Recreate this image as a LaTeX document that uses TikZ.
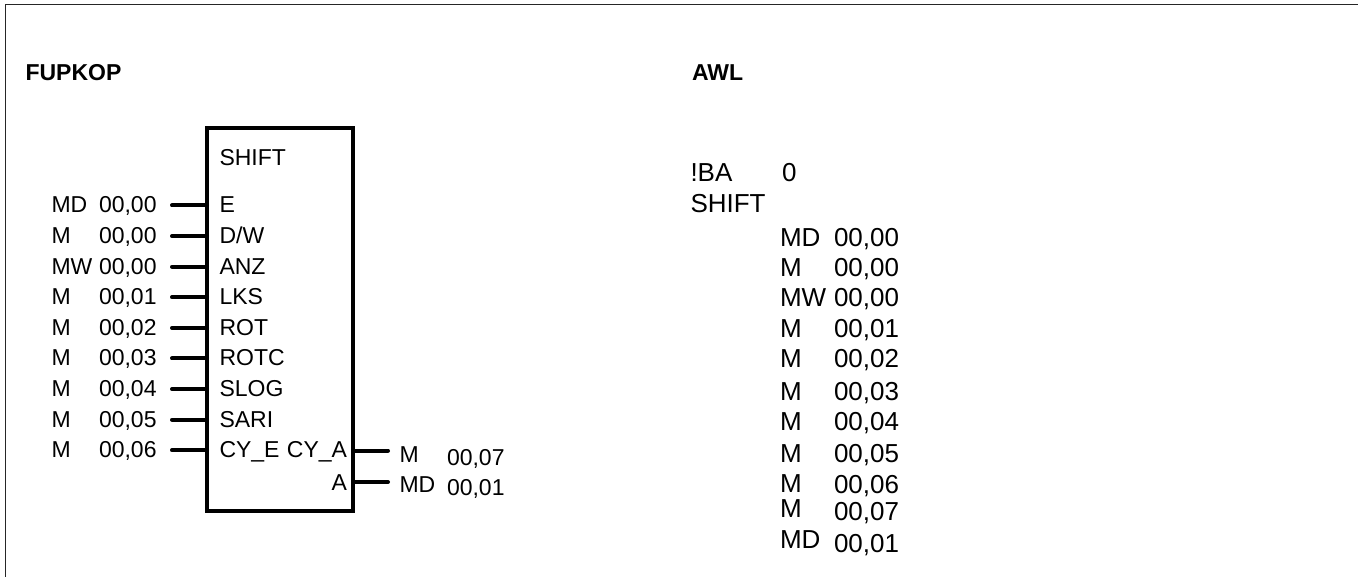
\documentclass[tikz,border=0pt]{standalone}
\usepackage{fontspec}
\setmainfont{Liberation Sans}
\begin{document}
\begin{tikzpicture}[x=1pt,y=-1pt,
  txt/.style={inner sep=0pt,outer sep=0pt,anchor=base west,font=\fontsize{23}{27}\selectfont},
  ltxt/.style={txt,font=\fontsize{26}{30}\selectfont},
  rtxt/.style={txt,anchor=base east},
  head/.style={txt,font=\fontsize{23}{27}\selectfont\bfseries},
  stub/.style={line width=4pt,line cap=round},
  frame/.style={line width=1.5pt,black!85},
  blk/.style={draw,line width=4pt,inner sep=0pt,outer sep=0pt,minimum width=146pt,minimum height=383pt,anchor=north west}]
\useasboundingbox (0,0) rectangle (1358,577);
% frame
\draw[frame] (1358,4.5) -- (5.5,4.5) -- (5.5,577);
% headings
\node[head] (fup) at (25.5,81) {FUPKOP};
\node[head] (awl) at (692,81) {AWL};
% block
\node[blk] (box) at (207,128) {};
\node[txt] (bname) at (219.5,166) {SHIFT};
% inputs
\foreach \p/\n/\l [count=\i from 0] in {MD/{00,00}/E, M/{00,00}/{D/W}, MW/{00,00}/ANZ, M/{00,01}/LKS, M/{00,02}/ROT, M/{00,03}/ROTC, M/{00,04}/SLOG, M/{00,05}/SARI, M/{00,06}/{CY\_E}} {
  \pgfmathsetmacro\yb{213+30.6*\i}
  \node[txt] (lp\i) at (51.5,\yb) {\p};
  \node[txt] (ln\i) at (99,\yb) {\n};
  \node[txt] (pin\i) at (219.5,\yb) {\l};
  \coordinate (in\i) at (172,{\yb-7.5});
  \draw[stub] (in\i) -- (in\i -| box.west);
}
% outputs
\node[rtxt] (pcya) at (347,457.8) {CY\_A};
\node[rtxt] (pa) at (347,490) {A};
\coordinate (out0) at (388,450.5);
\coordinate (out1) at (388,482);
\draw[stub] (box.east |- out0) -- (out0);
\draw[stub] (box.east |- out1) -- (out1);
\node[txt] (rp0) at (399.5,462) {M};
\node[txt] (rn0) at (447,465) {00,07};
\node[txt] (rp1) at (399.5,492) {MD};
\node[txt] (rn1) at (447,495) {00,01};
% AWL listing
\node[ltxt] (ba) at (690.5,182) {!BA};
\node[ltxt] (ba0) at (782,182) {0};
\node[ltxt] (sh) at (690.5,213) {SHIFT};
\foreach \p/\n/\yp/\yn [count=\i from 0] in {MD/{00,00}/247/247, M/{00,00}/277/277, MW/{00,00}/307/307, M/{00,01}/338/338, M/{00,02}/368/368, M/{00,03}/400/400, M/{00,04}/430/430, M/{00,05}/462/462, M/{00,06}/492/493, M/{00,07}/517/520, MD/{00,01}/548/552} {
  \node[ltxt] (ap\i) at (780,\yp) {\p};
  \node[ltxt] (an\i) at (834,\yn) {\n};
}
\end{tikzpicture}
\end{document}
